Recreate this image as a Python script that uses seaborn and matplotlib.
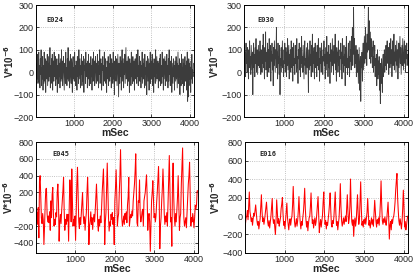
import numpy as np
import pandas as pd
import matplotlib
matplotlib.use("Agg")
import matplotlib.pyplot as plt
import seaborn as sns

# ---------------- data ----------------
step_top = 10   # ms between samples (top panels)
step_bot = 16   # ms between samples (bottom panels)

e024 = [
    -20, -150, -60, 40, -30, 80, -50, 10, 90, -40, 30, -70, 60, -10, 100, -60, 20, -30, 70, -80,
    30, -50, 90, 0, -40, 60, -90, 20, 50, -30, 80, -60, 10, 70, -40, 40, -20, 110, -70, 30,
    -50, 60, -10, 80, -80, 20, 50, -40, 90, -20, 0, 70, -60, 40, -30, 60, -90, 30, 10, -50,
    80, -20, 40, -70, 60, 10, -40, 100, -30, 50, -60, 20, 70, -10, -80, 40, 30, -50, 90, -20,
    20, -60, 60, -30, 110, -40, 10, 50, -70, 30, 80, -20, -50, 60, 0, -90, 40, 70, -30, 20,
    -40, 90, -10, 30, -60, 50, 20, -80, 70, -20, 40, -50, 100, -30, 10, 60, -70, 30, -10, 80,
    -60, 20, 50, -40, 70, -90, 30, 10, 60, -50, 90, -20, 0, 40, -70, 50, -30, 80, -10, -60,
    40, 10, -50, 70, -20, 30, -80, 60, 0, -40, 90, -30, 50, -60, 20, 70, -10, -50, 40, 10,
    80, -40, 30, -70, 50, -10, 100, -50, 20, 60, -30, -80, 40, 10, 70, -60, 30, -20, 90, -40,
    0, 60, -50, 20, -90, 50, 30, -30, 70, -60, 40, 10, -40, 80, -20, 30, -70, 60, -10, 40,
    -50, 90, -30, 20, -100, 50, -10, 70, -40, 30, 60, -60, 10, 80, -30, -110, 40, 20, -50, 70,
    -20, 50, -80, 30, 100, -40, 10, 60, -70, 40, -10, 80, -50, 20, 110, -30, 0, 50, -60, 30,
    70, -40, 20, -90, 60, -10, 40, -60, 90, -20, 30, -50, 70, 0, -40, 50, -80, 20, 60, -30,
    10, 80, -50, 40, -20, 100, -60, 30, -10, 70, -40, 20, 50, -70, 30, -20, 90, -50, 10, 60,
    -30, 40, -70, 80, -10, 20, -60, 50, -100, 30, 70, -40, 10, 60, -80, 40, -20, 90, -50, 20,
    50, -30, 80, -60, 10, 40, -90, 60, -20, 30, -50, 100, -40, 20, 70, -30, 0, 50, -70, 40,
    -10, 60, -40, 80, -60, 30, 10, -50, 90, -20, 40, -80, 60, -30, 20, 70, -60, 10, 50, -40,
    80, -20, 30, -70, 60, -40, 100, -10, 20, -60, 50, -30, 70, -90, 40, 0, -50, 60, -20, 30,
    -80, 50, 10, -40, 70, -30, 40, -70, 20, 90, -50, 30, -20, 60, -100, 40, 10, -60, 80, -30,
    20, -50, 60, -90, 40, 0, -60, 70, -40, 30, -20, 50, -80, 90, -130, 10, -110, 60, -30, 40,
    -60, 20, -90, 50, -30, 80, -50, 10, -20, 40,
]

e030 = [
    60, 120, 10, 90, -20, 130, 40, 80, 0, 110, 50, -30, 100, 20, 140, 30, 70, -10, 120, 60,
    10, 90, -100, 60, 130, 20, 80, -20, 110, 40, 150, 0, 70, 100, -10, 60, 120, 30, 90, 20,
    140, 30, -10, 100, 60, 0, 120, 40, 170, 20, 80, -30, 110, 50, 180, 10, 90, 60, -20, 130,
    40, 100, 0, 150, 60, 20, 120, -40, 90, 50, 130, 10, 80, -60, 110, 30, 140, 70, 0, 100,
    60, 200, 20, 90, -30, 130, 40, 70, -10, 120, -100, 60, 30, 110, 0, 80, 140, 20, 50, -20,
    100, 40, 130, 0, 70, 110, -20, 90, 30, 150, 10, 60, 120, -30, 80, 40, 100, 0, 140, 50,
    20, 110, -40, 80, 130, 30, 60, -10, 120, 40, 90, 0, 150, 20, 70, -50, 100, 60, 130, 10,
    80, -20, 110, 40, 160, 20, 70, 0, 120, 50, -30, 90, 140, 30, 60, -10, 110, 70, 20, 130,
    40, -90, 100, 60, 10, 140, 30, 80, -20, 120, 50, 170, 0, 90, 40, 110, -30, 70, 130, 20,
    90, 50, -20, 120, 30, 80, 150, 10, 60, -40, 110, 40, 90, 0, 130, 20, 70, -10, 100, 50,
    140, 30, 80, -30, 110, 60, 10, 160, 40, 90, -20, 70, 120, 20, 80, -50, 130, 50, 100, 0,
    70, 150, 30, 90, -10, 120, 40, 60, 170, 10, 80, -40, 110, 50, 90, 0, 140, 30, 70, -20,
    100, 60, 130, 10, 90, -30, 150, 40, 70, 0, 120, 30, 80, -60, 110, 50, 160, 20, 60, -10,
    90, 130, 20, 70, -20, 140, 50, 100, 10, 160, 60, 200, 30, 120, 290, 80, 150, 20, 90, 40,
    120, -20, 60, 100, 0, 80, -50, 40, 110, -80, 30, 70, -130, 50, 20, 90, -40, 60, 130, 10,
    80, 160, 40, 110, 200, 60, 130, 30, 170, 90, 150, 290, 100, 230, 60, 180, 120, 40, 150, 70,
    110, 20, 90, 140, 0, 70, 30, 120, -20, 60, 10, 80, -60, 40, 100, -30, 50, -10, 70, -80,
    20, -140, 40, -50, 60, 0, -90, 30, 80, -20, 50, 100, 0, 70, 30, 120, 10, 90, 140, 40,
    60, 110, -10, 90, 130, 20, 70, 150, 40, 100, -20, 80, 140, 30, 60, 170, 10, 90, 50, 120,
    0, 80, 140, 30, 100, -30, 70, 130, 20, 90, 160, 40, 110, -10, 60, 120, 30, 150, 70, 10,
    90, 140, 40, 100, 0, 120, 60, 130, 30, 80,
]

e045 = [
    -80, -150, -40, -180, 20, -340, 330, 400, 150, -100, -170, -50, -130, -420, -200, 60,
    240, 250, -50, -150, -80, -160, -30, -250, 100, -100, 180, 260, -60, -200, -120, -180,
    -40, -90, 200, 300, 80, -380, -150, -60, -170, -20, 100, 220, 380, -20, -250, -120,
    -180, -60, -140, -60, -380, 50, 350, 200, -150, 480, 100, -200, -120, -190, -80, -370,
    -60, 300, 500, 150, -150, -230, -100, -180, -60, 50, 200, -60, -170, -90, -250, -120,
    -40, 200, 380, 100, -420, -200, -140, -30, -180, -100, -240, -120, -60, -150, -20, 150,
    300, 80, -180, -260, -120, -200, -80, -160, 0, 200, 350, 480, 150, -420, -150, -40,
    250, 550, 200, -100, -260, -150, -200, -60, -120, -40, -180, -100, -420, 100, 250, 470,
    200, -200, -100, -50, 200, 400, 710, 300, -100, -200, -150, -80, -180, -50, -120, -30,
    -160, 50, 150, 380, -200, -120, -60, -100, -20, -80, 100, 200, 300, 450, 660, 200,
    -160, -200, 100, 80, 350, -50, -150, -100, -30, 0, -200, 100, 150, 200, 300, 410,
    150, -250, -100, -50, -150, -500, -200, 100, 200, 340, 120, -100, -50, -150, -80, 80,
    200, 350, 510, 150, -470, -200, -100, 100, 250, 480, 250, -50, -180, -80, -150, -40,
    -200, 100, 350, 640, 250, -150, -100, -440, 300, 550, 150, -100, -200, -50, -150, 0,
    150, 400, 100, -250, -100, -50, 300, 500, 730, 200, -100, -200, -150, -100, -220, -50,
    100, 300, 400, 560, 200, -200, -100, -150, -50, -120, -220, -100, 50, 0, 50, 220, 220,
]

e016 = [
    -160, -80, -20, 0, 60, -40, 100, 260, 50, 0, -60, -20, -100, -40, 30, 0,
    60, 120, 40, -50, -100, -60, -140, -80, -30, 100, 230, 50, -60, -20, -90, -40,
    20, 80, 150, 30, -70, -110, -50, -130, -60, 0, 100, 190, -20, -80, -40, -120,
    -200, -60, 175, 40, -80, -30, -110, -60, -20, 80, 130, 200, 20, -100, -60, -140,
    -50, 30, 140, -20, -90, -150, -70, -30, -100, -40, 0, 120, 320, 100, -60, -120,
    -80, -30, -110, -50, 60, 210, 40, -70, -140, -60, -100, -20, 40, 150, 300, 80,
    -40, -120, -60, -160, -80, -20, 0, 100, 250, 60, -80, -40, -130, -70, -20, -100,
    -60, 20, 120, 210, 30, -180, -90, -40, -120, -60, 10, 150, 260, 50, -90, -50,
    -140, -70, -100, -30, 40, 130, 250, 60, -90, -120, -50, -80, 0, 140, 260, 30,
    -100, -60, -150, -80, -20, 120, 350, 100, -50, -110, -70, -20, -90, -40, 0, -60,
    80, 230, 40, -80, -30, 100, 400, 120, -60, -100, -40, -220, -80, -20, -110, -50,
    90, 230, 20, -90, -40, 150, 370, 80, -100, -60, -120, -40, -80, -20, -90, -30,
    40, 190, 30, -100, -50, -130, -70, -20, -90, -40, -110, 20, 170, 50, -60, -120,
    -40, -80, -20, -100, 0, 150, 380, 120, -50, -90, -30, -70, -10, -60, -100, -30,
    60, 150, -20, -250, -100, -60, -150, -40, -80, -20, 0, 60, 150, 280, 380, 460,
    200, 60, -50, -100, -30, -80, -140, -60, 80, 280, 100, -120, -60, -150, -100, -40, 0,
]

names = ["E024", "E030", "E045", "E016"]
series = [e024, e030, e045, e016]
steps = [step_top, step_top, step_bot, step_bot]
ylims = [(-200, 300), (-200, 300), (-520, 800), (-400, 800)]
yticks = [[-200, -100, 0, 100, 200, 300], [-200, -100, 0, 100, 200, 300],
          [-400, -200, 0, 200, 400, 600, 800], [-400, -200, 0, 200, 400, 600, 800]]
xticks = [1000, 2000, 3000, 4000]
colors = ["#3c3c3c", "#3c3c3c", "#ff0000", "#ff0000"]

# ---------------- plot ----------------
sns.set_style("ticks")
plt.rcParams["font.family"] = ["Liberation Sans", "DejaVu Sans"]

fig = plt.figure(figsize=(4.15, 2.78), dpi=100)
positions = [
    [0.086, 0.579, 0.381, 0.403],
    [0.588, 0.579, 0.395, 0.403],
    [0.086, 0.090, 0.391, 0.399],
    [0.590, 0.090, 0.393, 0.399],
]
label_pos = [(0.07, 0.87), (0.08, 0.87), (0.10, 0.89), (0.09, 0.89)]
ylabel_x = [-0.125, -0.14, -0.125, -0.14]

for k in range(4):
    ax = fig.add_axes(positions[k])
    vals = series[k]
    t = np.arange(len(vals)) * steps[k]
    df = pd.DataFrame({"t": t, "v": vals})
    sns.lineplot(data=df, x="t", y="v", ax=ax, color=colors[k],
                 linewidth=0.6 if k < 2 else 0.75, estimator=None, sort=False)
    ax.set_xlim(0, 4100)
    ax.set_ylim(*ylims[k])
    ax.set_xticks(xticks)
    ax.set_yticks(yticks[k])
    ax.grid(True, linestyle=":", color="#b0b0b0", linewidth=0.6)
    ax.tick_params(direction="in", length=2.5, labelsize=6.5, width=0.6,
                   top=True, right=True, pad=1.5)
    for sp in ax.spines.values():
        sp.set_visible(True)
        sp.set_linewidth(0.7)
        sp.set_color("black")
    ax.set_xlabel("mSec", fontsize=7.5, fontweight="bold", labelpad=0)
    ax.set_ylabel(r"V*10$^{\mathbf{-6}}$", fontsize=7, fontweight="bold")
    ax.yaxis.set_label_coords(ylabel_x[k], 0.5)
    ax.text(label_pos[k][0], label_pos[k][1], names[k], transform=ax.transAxes,
            fontsize=5, fontweight="bold", family="DejaVu Sans Mono",
            ha="left", va="center")

fig.savefig("out.png", dpi=100)
